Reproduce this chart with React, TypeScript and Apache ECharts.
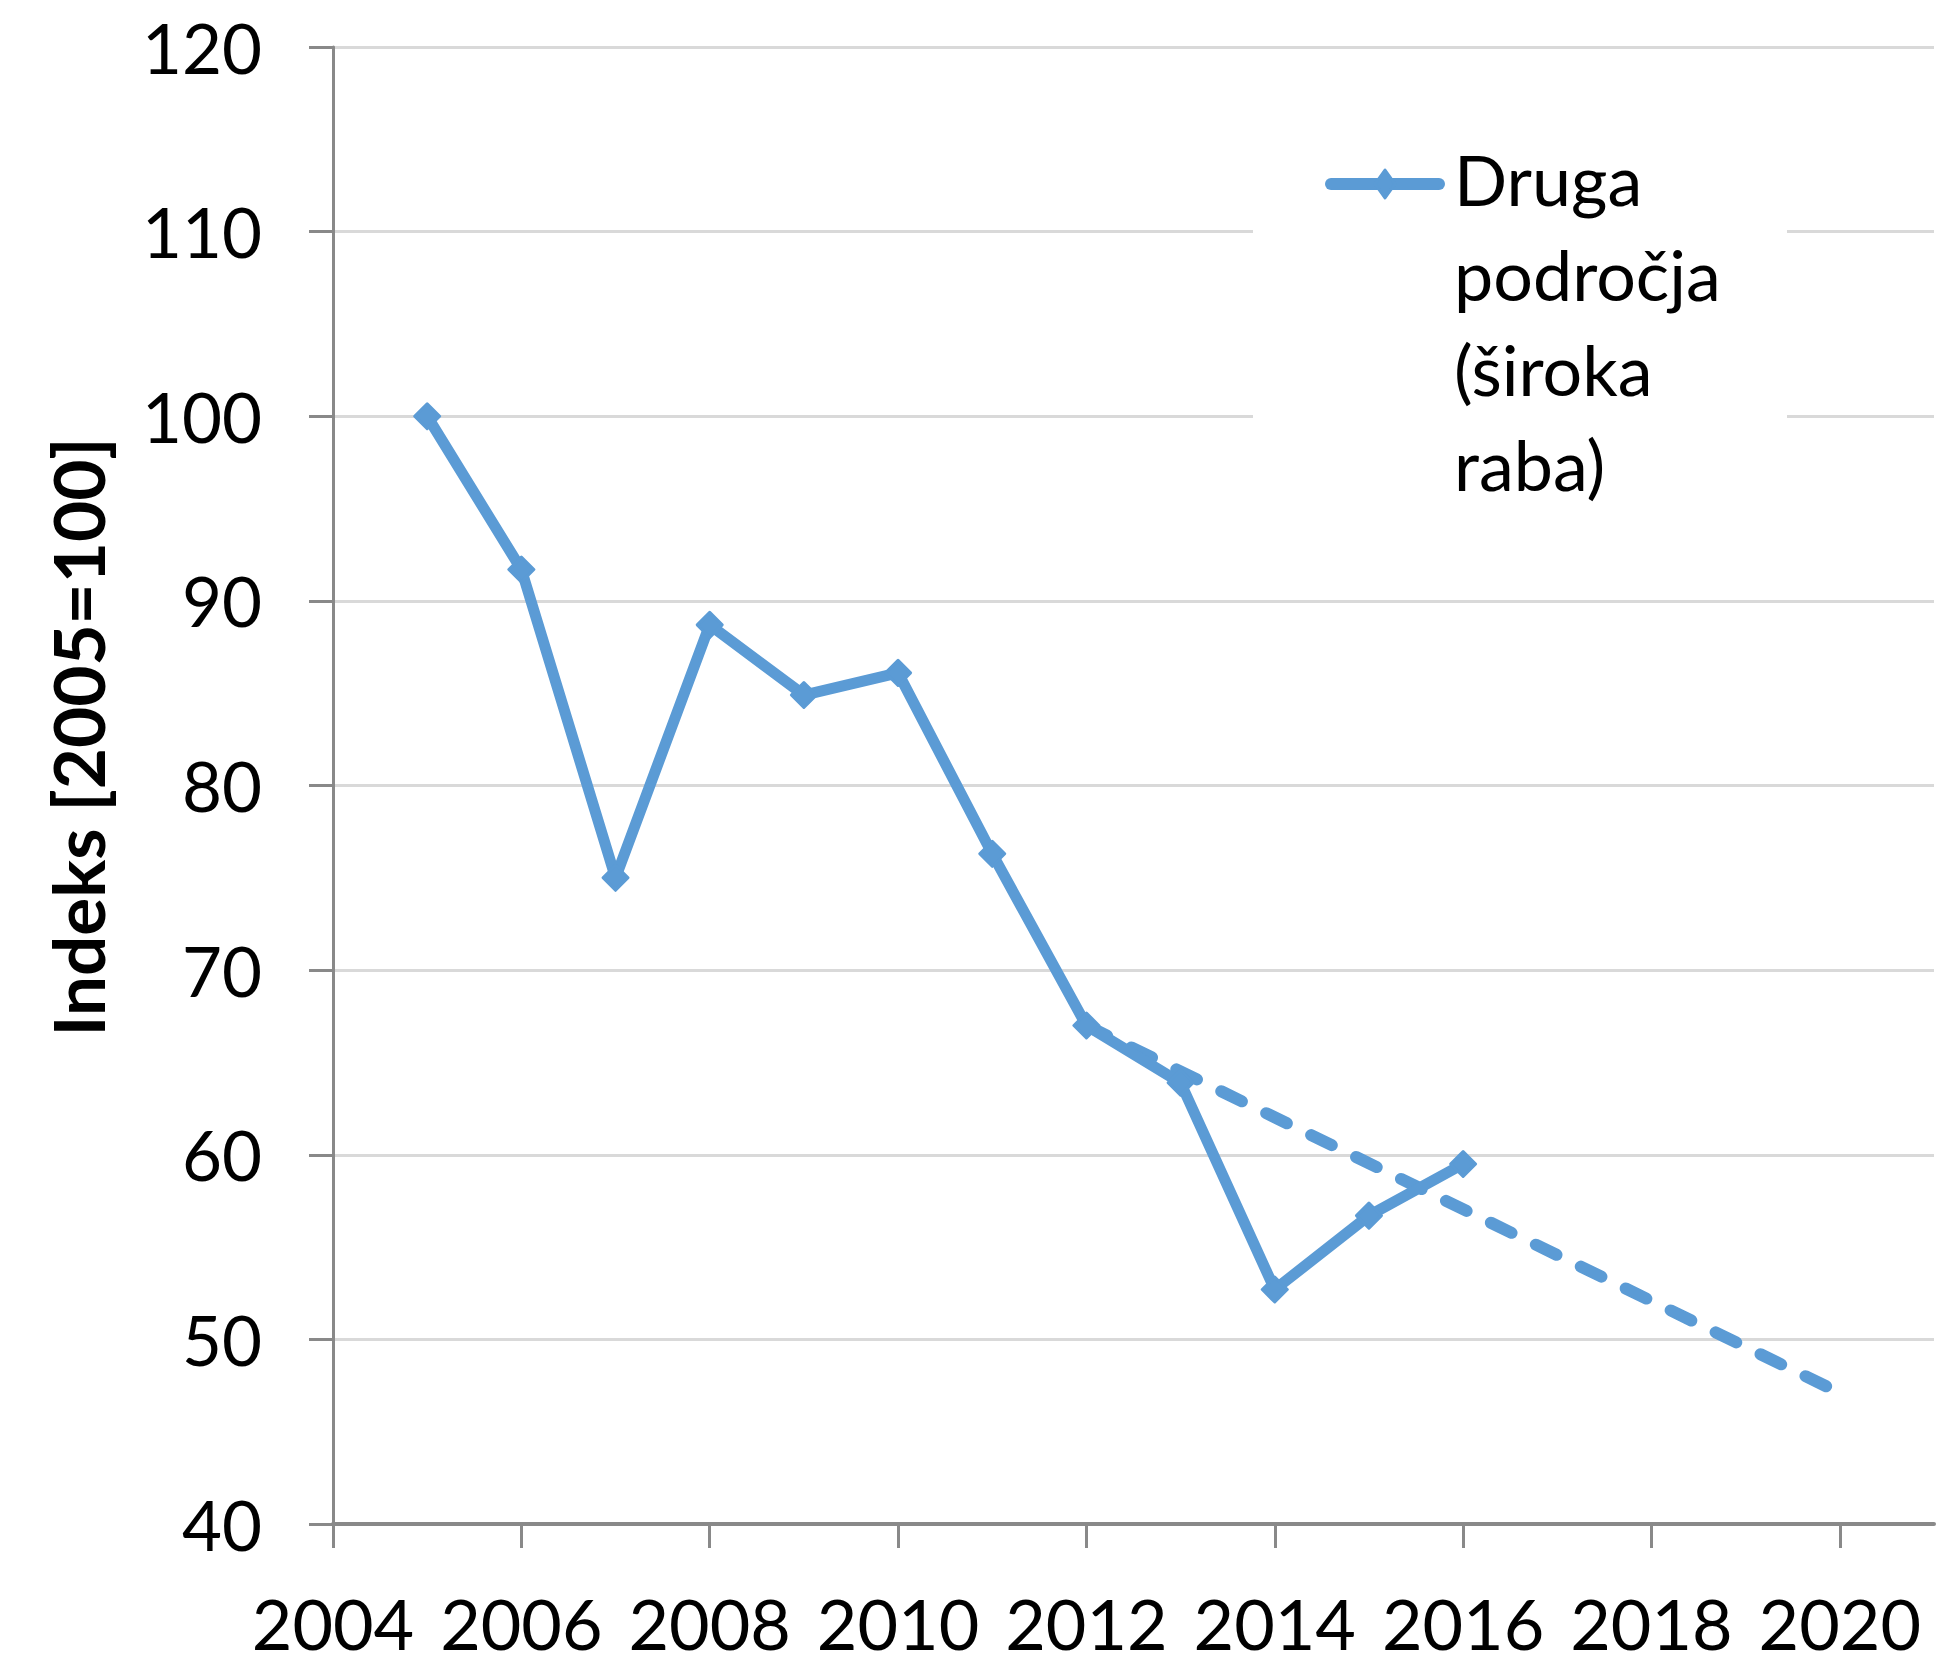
import React, { useEffect, useRef } from "react";
import * as echarts from "echarts";

const years = [2005, 2006, 2007, 2008, 2009, 2010, 2011, 2012, 2013, 2014, 2015, 2016];
const values = [100, 91.7, 75.0, 88.7, 84.9, 86.1, 76.3, 67.0, 63.9, 52.7, 56.7, 59.5];
const trendYears = [2012, 2020];
const trendValues = [67.0, 47.1];
const xTickValues = [2004, 2006, 2008, 2010, 2012, 2014, 2016, 2018, 2020];
const seriesName = "Druga področja (široka raba)";
const legendLines = ["Druga", "področja", "(široka", "raba)"];
const yAxisTitle = "Indeks [2005=100]";

const BLUE = "#5B9BD5";
const FONT = "Lato, 'Noto Sans', sans-serif";

export default function App() {
  const ref = useRef<HTMLDivElement>(null);
  useEffect(() => {
    document.body.style.margin = "0";
    if (!ref.current) return;
    const chart = echarts.init(ref.current, null, { renderer: "svg" });
    chart.setOption({
      animation: false,
      backgroundColor: "#ffffff",
      grid: { left: 333, top: 47, right: 12, bottom: 136, containLabel: false },
      xAxis: {
        type: "value",
        min: 2004,
        max: 2021,
        interval: 2,
        splitLine: { show: false },
        axisLine: { show: true, lineStyle: { color: "#898989", width: 4 } },
        axisTick: {
          show: true,
          length: 24,
          inside: false,
          customValues: xTickValues,
          lineStyle: { color: "#898989", width: 3 },
        },
        axisLabel: {
          customValues: xTickValues,
          margin: 64,
          fontSize: 70,
          fontFamily: FONT,
          color: "#000000",
          formatter: (v: number) => String(v),
        },
      },
      yAxis: {
        type: "value",
        min: 40,
        max: 120,
        interval: 10,
        axisLine: { show: true, lineStyle: { color: "#898989", width: 3 } },
        axisTick: { show: true, length: 24, inside: false, lineStyle: { color: "#898989", width: 3 } },
        splitLine: { show: true, lineStyle: { color: "#d9d9d9", width: 3 } },
        axisLabel: { margin: 71, fontSize: 69, fontFamily: FONT, color: "#000000" },
      },
      series: [
        {
          name: "trend",
          type: "line",
          data: trendYears.map((y, i) => [y, trendValues[i]]),
          showSymbol: false,
          symbol: "none",
          lineStyle: { color: BLUE, width: 12, type: [23, 27], cap: "round" },
          z: 2,
        },
        {
          name: seriesName,
          type: "line",
          data: years.map((y, i) => [y, values[i]]),
          symbol: "diamond",
          symbolSize: 25,
          itemStyle: { color: BLUE, borderColor: BLUE, borderWidth: 3, borderJoin: "round" },
          lineStyle: { color: BLUE, width: 11, cap: "round", join: "round" },
          z: 3,
        },
      ],
      graphic: [
        {
          type: "rect",
          shape: { x: 1253, y: 80, width: 534, height: 450 },
          style: { fill: "#ffffff" },
          z: 50,
        },
        {
          type: "line",
          shape: { x1: 1331, y1: 184, x2: 1439, y2: 184 },
          style: { stroke: BLUE, lineWidth: 12, lineCap: "round" },
          z: 51,
        },
        {
          type: "polygon",
          shape: { points: [[1385, 170], [1395, 184], [1385, 198], [1375, 184]] },
          style: { fill: BLUE, stroke: BLUE, lineWidth: 3, lineJoin: "round" },
          z: 52,
        },
        {
          type: "text",
          x: 1454,
          y: 131,
          style: {
            text: legendLines.join("\n"),
            fontSize: 70,
            lineHeight: 95,
            fontFamily: FONT,
            fill: "#000000",
            textAlign: "left",
            textVerticalAlign: "top",
          },
          z: 52,
        },
        {
          type: "text",
          x: 77,
          y: 737,
          rotation: Math.PI / 2,
          style: {
            text: yAxisTitle,
            fontSize: 71,
            fontWeight: "bold",
            fontFamily: FONT,
            fill: "#000000",
            textAlign: "center",
            textVerticalAlign: "middle",
          },
          z: 52,
        },
      ],
    });
    return () => chart.dispose();
  }, []);
  return <div ref={ref} style={{ width: 1946, height: 1660 }} />;
}
